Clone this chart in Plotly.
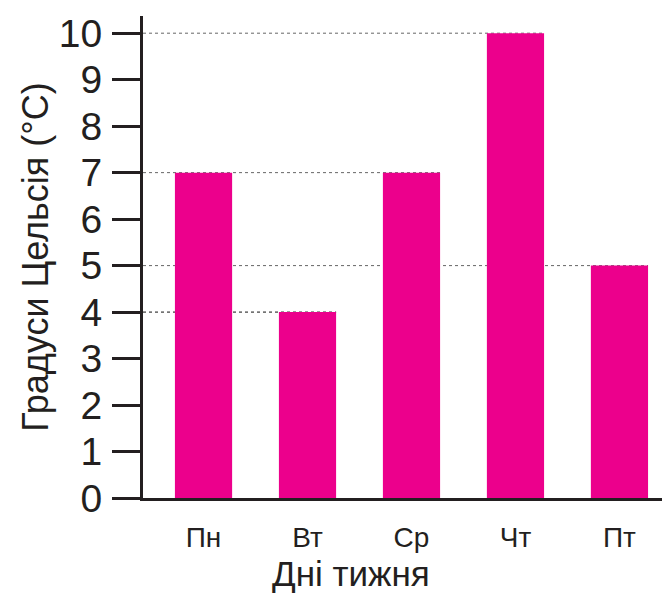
import plotly.graph_objects as go

days = ["Пн", "Вт", "Ср", "Чт", "Пт"]
temperatures = [7, 4, 7, 10, 5]
y_ticks = list(range(0, 11))

BAR_COLOR = "#EC008C"
AXIS_COLOR = "#231F20"
FONT = "Liberation Sans Narrow, Arial Narrow, Liberation Sans, Arial, sans-serif"
BAR_WIDTH = 0.55
X_RANGE = [-0.582, 4.486]

fig = go.Figure(
    go.Bar(
        x=days,
        y=temperatures,
        width=BAR_WIDTH,
        marker=dict(color=BAR_COLOR, line=dict(width=0)),
    )
)

# dashed guide from the axis to the right edge of the last bar with each value
shapes = []
for value in sorted(set(temperatures), reverse=True):
    last = max(i for i, t in enumerate(temperatures) if t == value)
    shapes.append(
        dict(
            type="line",
            xref="x",
            yref="y",
            x0=X_RANGE[0],
            x1=last + BAR_WIDTH / 2,
            y0=value,
            y1=value,
            line=dict(color="#666666" if value != 4 else "#111111", width=1, dash="3px,3px"),
            layer="below",
        )
    )

# the page body adds an 8px offset, so the figure is a bit smaller than the window
fig.update_layout(
    width=662,
    height=587,
    margin=dict(l=135, r=0, t=8, b=97),
    plot_bgcolor="white",
    paper_bgcolor="white",
    showlegend=False,
    shapes=shapes,
    font=dict(family=FONT, color=AXIS_COLOR),
    annotations=[
        dict(
            text="Дні тижня",
            xref="paper",
            yref="paper",
            x=0.395,
            y=-0.157,
            xanchor="center",
            yanchor="middle",
            showarrow=False,
            font=dict(size=35, color=AXIS_COLOR),
        )
    ],
)

fig.update_xaxes(
    type="category",
    range=X_RANGE,
    automargin=False,
    showline=True,
    linecolor=AXIS_COLOR,
    linewidth=3,
    ticks="",
    showgrid=False,
    tickfont=dict(size=28),
    ticklabelstandoff=12,
)

fig.update_yaxes(
    range=[0, 10.37],
    tickvals=y_ticks,
    automargin=False,
    showline=True,
    linecolor=AXIS_COLOR,
    linewidth=3,
    ticks="outside",
    ticklen=28,
    tickwidth=3,
    tickcolor=AXIS_COLOR,
    showgrid=False,
    zeroline=False,
    tickfont=dict(size=39),
    ticklabelstandoff=2,
    title=dict(text="Градуси Цельсія (°C)", font=dict(size=36), standoff=0),
)

fig.write_html("out.html")
